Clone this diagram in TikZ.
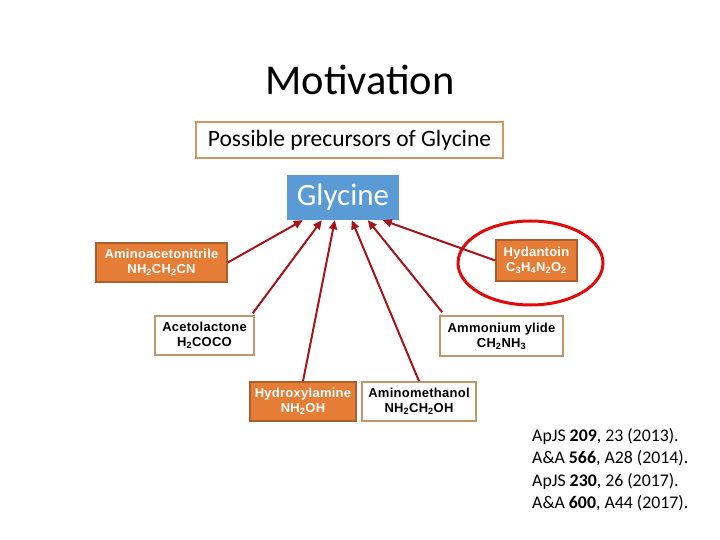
\documentclass[tikz,border=0pt]{standalone}
\usepackage{fontspec}
\setmainfont{Carlito}
\newfontfamily\boxfont[LetterSpace=2]{Liberation Sans}
\usetikzlibrary{arrows.meta,shapes.geometric}
\definecolor{orfill}{RGB}{230,125,55}
\definecolor{ordraw}{RGB}{170,95,45}
\definecolor{tandraw}{RGB}{195,150,105}
\definecolor{titledraw}{RGB}{210,150,100}
\definecolor{glyfill}{RGB}{91,155,213}
\definecolor{arrred}{RGB}{165,20,25}
\definecolor{ellred}{RGB}{225,10,10}
\tikzset{
  molbox/.style={draw=ordraw, fill=orfill, line width=1.6pt, text=white, inner sep=0pt,
     align=center, font=\boxfont\bfseries\fontsize{13}{15}\selectfont},
  whitebox/.style={draw=tandraw, fill=white, line width=1.6pt, text=black, inner sep=0pt,
     align=center, font=\boxfont\bfseries\fontsize{13}{15}\selectfont},
  arr/.style={draw=arrred, line width=2pt, -{Triangle[length=9pt,width=8pt]}},
}
\begin{document}
\begin{tikzpicture}[x=1pt,y=-1pt]
\useasboundingbox (0,0) rectangle (720,540);
\fill[white] (0,0) rectangle (720,540);
\node (title) at (360,80) {\fontsize{42.5}{48}\selectfont Motivation};
\node[draw=titledraw, line width=1.6pt, minimum width=307pt, minimum height=36pt, inner sep=0pt,
      font=\fontsize{23.5}{28}\selectfont] (poss) at (349.5,140) {Possible precursors of Glycine};
\node[fill=glyfill, text=white, minimum width=112pt, minimum height=45pt, inner sep=0pt,
      font=\fontsize{31}{36}\selectfont] (gly) at (343,197.5) {Glycine};
\node[molbox, minimum width=131pt, minimum height=39pt] (amino) at (161.5,262.5)
   {Aminoacetonitrile\\NH\textsubscript{2}CH\textsubscript{2}CN};
\node[molbox, minimum width=81pt, minimum height=41pt] (hyd) at (536.5,260.5)
   {Hydantoin\\C\textsubscript{3}H\textsubscript{4}N\textsubscript{2}O\textsubscript{2}};
\node[whitebox, minimum width=99pt, minimum height=39pt] (aceto) at (204.5,335.5)
   {Acetolactone\\H\textsubscript{2}COCO};
\node[whitebox, minimum width=123pt, minimum height=40pt] (ammon) at (501.5,336)
   {Ammonium ylide\\CH\textsubscript{2}NH\textsubscript{3}};
\node[molbox, minimum width=106pt, minimum height=39pt] (hydrox) at (303,401.5)
   {Hydroxylamine\\NH\textsubscript{2}OH};
\node[whitebox, minimum width=114pt, minimum height=39pt] (amet) at (419,401.5)
   {Aminomethanol\\NH\textsubscript{2}CH\textsubscript{2}OH};
\node[draw=ellred, line width=3pt, ellipse, minimum width=145pt, minimum height=84pt] (ell) at (530.5,263) {};
\draw[arr] (amino.east) -- ([xshift=16pt]gly.south west);
\draw[arr] ([xshift=-2pt,yshift=2pt]aceto.north east) -- ([xshift=35pt]gly.south west);
\draw[arr] (hydrox.north) -- ([xshift=48pt]gly.south west);
\draw[arr] (amet.north) -- ([xshift=65pt]gly.south west);
\draw[arr] ([xshift=3pt,yshift=3pt]ammon.north west) -- ([xshift=81pt]gly.south west);
\draw[arr] (hyd.west) -- ([xshift=96pt]gly.south west);
\node[anchor=north west, align=left, inner sep=0pt, font=\fontsize{17.8}{22.5}\selectfont] (refs) at (532,428)
  {ApJS \textbf{209}, 23 (2013).\\A\&A \textbf{566}, A28 (2014).\\ApJS \textbf{230}, 26 (2017).\\A\&A \textbf{600}, A44 (2017).};
\end{tikzpicture}
\end{document}
